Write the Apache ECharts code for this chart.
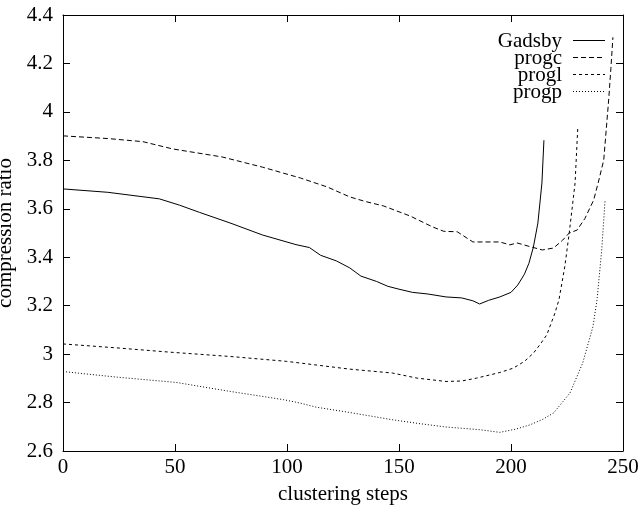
<!DOCTYPE html>
<html>
<head>
<meta charset="utf-8">
<script src="https://cdn.jsdelivr.net/npm/echarts@6/dist/echarts.min.js"></script>
<style>html,body{margin:0;padding:0;background:#fff}#c{width:640px;height:506px}</style>
</head>
<body>
<div id="c"></div>
<script>
const seriesNames = ['Gadsby', 'progc', 'progl', 'progp'];
const xTicks = [0, 50, 100, 150, 200, 250];
const yTicks = [2.6, 2.8, 3.0, 3.2, 3.4, 3.6, 3.8, 4.0, 4.2, 4.4];

const gadsbyX = [0, 20, 43, 52, 61, 75, 89, 104, 110, 115, 122, 128, 133, 140, 145, 150, 156, 163, 171, 178, 183, 186, 190, 195, 200, 203, 206, 208, 210, 212, 213.8, 214.7];
const gadsbyY = [3.682, 3.668, 3.641, 3.615, 3.585, 3.540, 3.492, 3.452, 3.440, 3.408, 3.385, 3.356, 3.322, 3.300, 3.280, 3.268, 3.255, 3.248, 3.236, 3.232, 3.220, 3.207, 3.222, 3.236, 3.255, 3.285, 3.330, 3.375, 3.442, 3.541, 3.706, 3.883];

const progcX = [0, 20, 35.7, 49, 71, 89, 106, 118, 128, 135, 143, 155, 165, 170, 176, 183, 195, 199.5, 202.7, 208, 214, 219, 223, 226, 229.5, 233, 236.9, 239, 241.4, 243.6, 244.6, 245.5];
const progcY = [3.901, 3.890, 3.877, 3.847, 3.814, 3.772, 3.727, 3.690, 3.649, 3.630, 3.612, 3.570, 3.525, 3.507, 3.505, 3.463, 3.463, 3.451, 3.459, 3.445, 3.430, 3.438, 3.470, 3.500, 3.512, 3.560, 3.636, 3.710, 3.801, 4.049, 4.180, 4.308];

const proglX = [0, 25, 47.8, 75, 99.9, 106, 128, 147, 158, 171, 178, 184.7, 195, 201, 206, 210, 213, 216, 219.6, 221.4, 224, 226, 228.6, 229.8];
const proglY = [3.042, 3.025, 3.008, 2.990, 2.970, 2.963, 2.938, 2.922, 2.901, 2.887, 2.889, 2.901, 2.924, 2.942, 2.970, 3.004, 3.040, 3.080, 3.169, 3.224, 3.360, 3.500, 3.706, 3.932];

const progpX = [0, 24, 50.6, 74.6, 98.4, 105.8, 113, 128, 147, 160, 171, 186, 195, 202, 208.5, 214, 219, 226.3, 232, 236.6, 238.4, 240.5, 242];
const progpY = [2.928, 2.905, 2.883, 2.846, 2.812, 2.798, 2.781, 2.759, 2.729, 2.712, 2.699, 2.688, 2.677, 2.690, 2.708, 2.730, 2.757, 2.839, 2.963, 3.114, 3.224, 3.430, 3.636];

const zip = (xs, ys) => xs.map((x, i) => [x, ys[i]]);
const FONT = '"Liberation Serif", "DejaVu Serif", serif';
const FS = 21;

const dashes = [null, [5, 3], [3, 3], [1, 2]];
const datas = [zip(gadsbyX, gadsbyY), zip(progcX, progcY), zip(proglX, proglY), zip(progpX, progpY)];

// legend drawn as text + line sample, top-right inside the plot
const legendGraphics = [];
seriesNames.forEach((n, i) => {
  const cy = 40.5 + i * 17;
  legendGraphics.push({
    type: 'text', right: 640 - 562, top: cy - 10,
    style: { text: n, font: FS + 'px ' + FONT, fill: '#000', textAlign: 'right', textVerticalAlign: 'top' }
  });
  legendGraphics.push({
    type: 'line', shape: { x1: 573, y1: cy, x2: 605, y2: cy },
    style: { stroke: '#000', lineWidth: 1, lineDash: dashes[i] }
  });
});

const chart = echarts.init(document.getElementById('c'), null, { renderer: 'canvas' });
const axisBase = {
  axisLine: { show: true, onZero: false, lineStyle: { color: '#000', width: 1 } },
  axisTick: { show: true, inside: true, length: 7, lineStyle: { color: '#000' } },
  splitLine: { show: false }
};
chart.setOption({
  animation: false,
  backgroundColor: '#fff',
  grid: { left: 63, right: 17, top: 15, bottom: 55, containLabel: false, outerBoundsMode: 'none' },
  graphic: legendGraphics,
  xAxis: [
    Object.assign({}, axisBase, {
      type: 'value', min: xTicks[0], max: xTicks[xTicks.length - 1], interval: 50,
      name: 'clustering steps', nameLocation: 'middle', nameGap: 33,
      nameTextStyle: { fontFamily: FONT, fontSize: FS, color: '#000' },
      axisLabel: { fontFamily: FONT, fontSize: FS, color: '#000', margin: 6 }
    }),
    Object.assign({}, axisBase, {
      type: 'value', position: 'top', min: xTicks[0], max: xTicks[xTicks.length - 1], interval: 50,
      axisLabel: { show: false }
    })
  ],
  yAxis: [
    Object.assign({}, axisBase, {
      type: 'value', min: yTicks[0], max: yTicks[yTicks.length - 1], interval: 0.2,
      name: 'compression ratio', nameLocation: 'middle', nameGap: 41,
      nameTextStyle: { fontFamily: FONT, fontSize: FS, color: '#000' },
      axisLabel: { fontFamily: FONT, fontSize: FS, color: '#000', margin: 10,
        formatter: v => String(Math.round(v * 10) / 10) }
    }),
    Object.assign({}, axisBase, {
      type: 'value', position: 'right', min: yTicks[0], max: yTicks[yTicks.length - 1], interval: 0.2,
      axisLabel: { show: false }
    })
  ],
  series: seriesNames.map((n, i) => ({
    name: n,
    type: 'line',
    data: datas[i],
    symbol: 'none',
    smooth: false,
    color: '#000',
    lineStyle: { color: '#000', width: 1, type: dashes[i] || 'solid' }
  }))
});
</script>
</body>
</html>
